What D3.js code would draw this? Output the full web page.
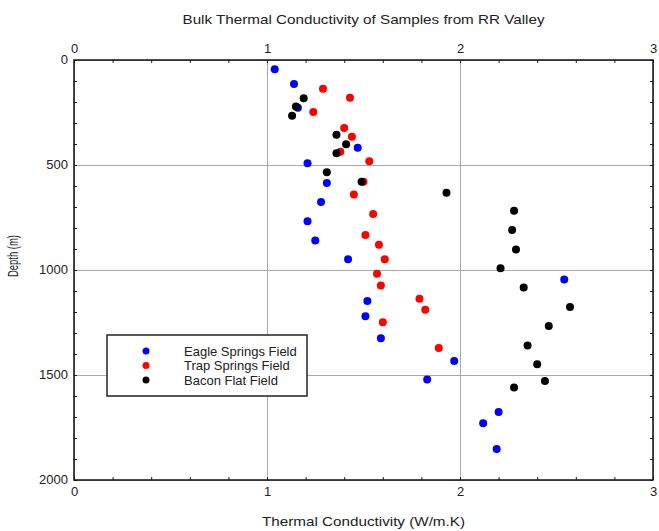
<!DOCTYPE html>
<html>
<head>
<meta charset="utf-8">
<script src="https://cdn.jsdelivr.net/npm/d3@7"></script>
<style>
  body { margin: 0; background: #fff; }
  svg { font-family: "Liberation Sans", Arial, sans-serif; }
  .grid line { stroke: #a8a8a8; stroke-width: 1; }
  .grid path { display: none; }
  .axis path { display: none; }
  .axis line { stroke: #222; }
  .axis text { font-size: 13px; fill: #222; }
</style>
</head>
<body>
<svg id="chart"></svg>
<script>
// Eagle Springs Field
var eagleK = [1.04, 1.14, 1.16, 1.47, 1.21, 1.31, 1.28, 1.21, 1.25, 1.42, 2.54, 1.52, 1.51, 1.59, 1.97, 1.83, 2.20, 2.12, 2.19];
var eagleDepth = [44, 114, 227, 418, 492, 586, 676, 768, 859, 949, 1045, 1148, 1220, 1325, 1433, 1522, 1676, 1730, 1852];

// Trap Springs Field
var trapK = [1.29, 1.43, 1.24, 1.40, 1.44, 1.38, 1.53, 1.50, 1.45, 1.55, 1.51, 1.58, 1.61, 1.57, 1.59, 1.79, 1.82, 1.60, 1.89];
var trapDepth = [137, 180, 248, 324, 365, 437, 482, 580, 641, 733, 833, 880, 949, 1018, 1074, 1137, 1189, 1249, 1371];

// Bacon Flat Field
var baconK = [1.19, 1.15, 1.13, 1.36, 1.41, 1.36, 1.31, 1.49, 1.93, 2.28, 2.27, 2.29, 2.21, 2.33, 2.57, 2.46, 2.35, 2.40, 2.44, 2.28];
var baconDepth = [182, 222, 265, 356, 401, 444, 535, 580, 632, 718, 810, 902, 992, 1083, 1176, 1267, 1359, 1449, 1529, 1560];

var seriesNames = ["Eagle Springs Field", "Trap Springs Field", "Bacon Flat Field"];
var seriesColors = ["#0000ff", "#ff0000", "#000000"];
var xMajor = [0, 1, 2, 3];
var yMajor = [0, 500, 1000, 1500, 2000];

var series = [
    { name: seriesNames[0], color: seriesColors[0], k: eagleK, depth: eagleDepth },
    { name: seriesNames[1], color: seriesColors[1], k: trapK, depth: trapDepth },
    { name: seriesNames[2], color: seriesColors[2], k: baconK, depth: baconDepth }
];

var W = 659, H = 531;
var margin = { top: 60, right: 6, bottom: 51, left: 74 },
    width = W - margin.left - margin.right,
    height = H - margin.top - margin.bottom;

var root = d3.select("#chart").attr("width", W).attr("height", H);
var svg = root.append("g")
    .attr("transform", "translate(" + margin.left + "," + margin.top + ")");

var x = d3.scaleLinear().domain([0, 3]).range([0, width]);
var y = d3.scaleLinear().domain([0, 2000]).range([0, height]);

// Gridlines at major ticks
svg.append("g")
    .attr("class", "grid")
    .call(d3.axisBottom(x).tickValues(xMajor).tickSize(height).tickFormat(""));
svg.append("g")
    .attr("class", "grid")
    .call(d3.axisRight(y).tickValues(yMajor).tickSize(width).tickFormat(""));

// Minor inward ticks on all sides
var xMinor = d3.range(0, 3.0001, 0.2);
var yMinor = d3.range(0, 2000.1, 100);
svg.append("g").attr("class", "axis")
    .call(d3.axisBottom(x).tickValues(xMinor).tickSize(3).tickFormat(""));
svg.append("g").attr("class", "axis")
    .attr("transform", "translate(0," + height + ")")
    .call(d3.axisTop(x).tickValues(xMinor).tickSize(3).tickFormat(""));
svg.append("g").attr("class", "axis")
    .call(d3.axisRight(y).tickValues(yMinor).tickSize(3).tickFormat(""));
svg.append("g").attr("class", "axis")
    .attr("transform", "translate(" + width + ",0)")
    .call(d3.axisLeft(y).tickValues(yMinor).tickSize(3).tickFormat(""));

// Tick labels
svg.append("g").attr("class", "axis")
    .call(d3.axisTop(x).tickValues(xMajor).tickSize(0).tickPadding(7).tickFormat(d3.format("d")));
svg.append("g").attr("class", "axis")
    .attr("transform", "translate(0," + height + ")")
    .call(d3.axisBottom(x).tickValues(xMajor).tickSize(0).tickPadding(7).tickFormat(d3.format("d")));
svg.append("g").attr("class", "axis")
    .call(d3.axisLeft(y).tickValues(yMajor).tickSize(0).tickPadding(6).tickFormat(d3.format("d")))
    .selectAll("text").attr("dy", "0.3em");

// Frame
svg.append("rect")
    .attr("width", width).attr("height", height)
    .attr("fill", "none").attr("stroke", "#111").attr("stroke-width", 1.5);

// Points
series.forEach(function (s) {
    svg.append("g").selectAll("circle")
        .data(s.k.map(function (k, i) { return { k: k, depth: s.depth[i] }; }))
        .enter().append("circle")
        .attr("cx", d => x(d.k))
        .attr("cy", d => y(d.depth))
        .attr("r", 4)
        .attr("fill", s.color);
});

// Legend
var legend = svg.append("g").attr("transform", "translate(33,275)");
legend.append("rect")
    .attr("width", 200).attr("height", 61)
    .attr("fill", "#fff").attr("stroke", "#222").attr("stroke-width", 1.5);
series.forEach(function (s, i) {
    legend.append("circle")
        .attr("cx", 39).attr("cy", 16 + i * 14.5)
        .attr("r", 3.5).attr("fill", s.color);
    legend.append("text")
        .attr("x", 77).attr("y", 16 + i * 14.5)
        .attr("dy", "0.35em")
        .attr("font-size", 13).attr("fill", "#222")
        .text(s.name);
});

// Title and axis labels
root.append("text")
    .attr("x", margin.left + width / 2).attr("y", 24)
    .attr("text-anchor", "middle").attr("font-size", 13).attr("fill", "#222")
    .attr("textLength", 362).attr("lengthAdjust", "spacingAndGlyphs")
    .text("Bulk Thermal Conductivity of Samples from RR Valley");

root.append("text")
    .attr("x", margin.left + width / 2).attr("y", 526)
    .attr("text-anchor", "middle").attr("font-size", 13.5).attr("fill", "#222")
    .attr("textLength", 203).attr("lengthAdjust", "spacingAndGlyphs")
    .text("Thermal Conductivity (W/m.K)");

// y label: squeezed along its length as in the reference
var yLab = root.append("text")
    .attr("text-anchor", "middle").attr("font-size", 15).attr("fill", "#222")
    .text("Depth (m)");
var natural = yLab.node().getComputedTextLength();
yLab.attr("transform", "translate(18,256) rotate(-90) scale(" + (42 / natural) + ",1)");
</script>
</body>
</html>
